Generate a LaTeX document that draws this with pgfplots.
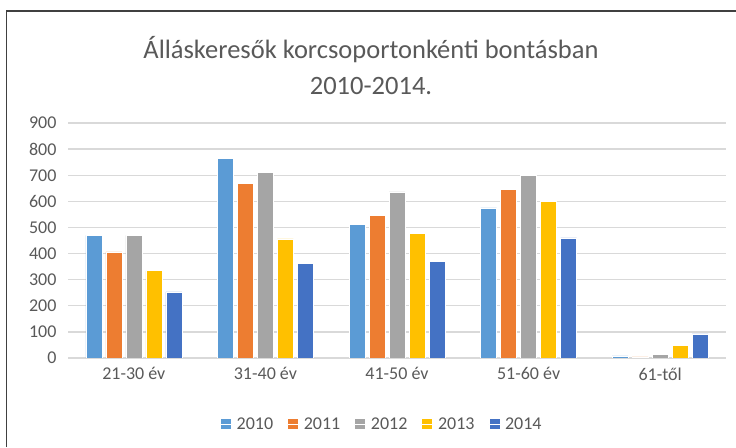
\documentclass[border=0pt]{standalone}
\usepackage{fontspec}
\setmainfont{Carlito}
\usepackage{pgfplots}
\pgfplotsset{compat=1.18}
\definecolor{cA}{HTML}{5B9BD5}
\definecolor{cB}{HTML}{ED7D31}
\definecolor{cC}{HTML}{A5A5A5}
\definecolor{cD}{HTML}{FFC000}
\definecolor{cE}{HTML}{4472C4}
\definecolor{txt}{HTML}{595959}
\definecolor{gridc}{HTML}{D9D9D9}
\begin{document}
\begin{tikzpicture}[x=1pt,y=1pt]
\path[use as bounding box] (0,0) rectangle (736,447);
\draw[black!75, line width=1.2pt] (6.5,0) -- (6.5,436) -- (736,436);
\node[text=txt, font=\fontsize{26.5}{36}\selectfont, align=center] at (371,381) {Álláskeresők korcsoportonkénti\ bontásban\\2010-2014.};
\begin{axis}[
  at={(68pt,89pt)}, anchor=south west,
  scale only axis, width=658pt, height=235pt,
  ymin=0, ymax=900, xmin=-0.5, xmax=4.5,
  ytick={0,100,...,900},
  xtick={0,1,2,3,4},
  xticklabels={21-30 év,31-40 év,41-50 év,51-60 év,61-től},
  ybar=4pt, bar width=16pt,
  axis line style={draw=none},
  major tick length=0pt,
  ymajorgrids, grid style={gridc, line width=1.3pt},
  /pgf/number format/assume math mode=true,
  tick label style={text=txt, font=\fontsize{18}{20}\selectfont},
  yticklabel style={xshift=-8pt},
  xticklabel style={yshift=-6pt},
  legend columns=5,
  legend style={draw=none, at={(0.477,-0.281)}, anchor=center,
    font=\fontsize{18}{20}\selectfont, text=txt,
    /tikz/every even column/.append style={column sep=12pt}},
  every axis plot/.append style={draw=white, line width=0.6pt},
  legend image code/.code={\path[fill=\pgfkeysvalueof{/pgfplots/mylegcol}] (0pt,-5.5pt) rectangle (11pt,5.5pt); \path (0pt,0pt) -- (14pt,0pt);},
  /pgfplots/mylegcol/.initial=black,
]
\addplot[fill=cA, /pgfplots/mylegcol=cA] coordinates {(0,470) (1,763) (2,512) (3,575) (4,8)};
\addplot[fill=cB, /pgfplots/mylegcol=cB] coordinates {(0,406) (1,670) (2,545) (3,647) (4,4)};
\addplot[fill=cC, /pgfplots/mylegcol=cC] coordinates {(0,470) (1,711) (2,636) (3,700) (4,13)};
\addplot[fill=cD, /pgfplots/mylegcol=cD] coordinates {(0,334) (1,456) (2,477) (3,599) (4,47)};
\addplot[fill=cE, /pgfplots/mylegcol=cE] coordinates {(0,253) (1,361) (2,369) (3,460) (4,92)};
\legend{2010,2011,2012,2013,2014}
\end{axis}
\end{tikzpicture}
\end{document}
